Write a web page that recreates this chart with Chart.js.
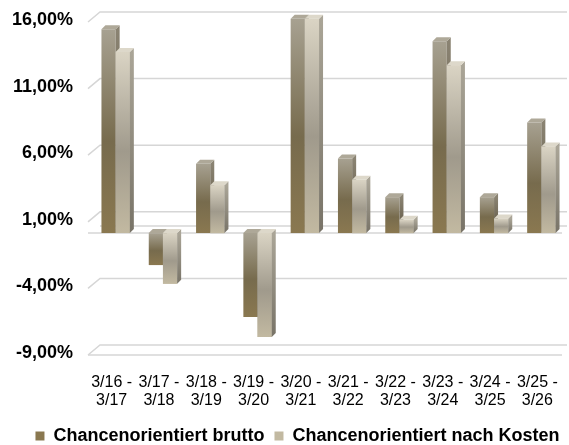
<!DOCTYPE html>
<html lang="de">
<head>
<meta charset="UTF-8">
<title>Chancenorientiert</title>
<script src="https://cdn.jsdelivr.net/npm/chart.js@4.4.1/dist/chart.umd.min.js"></script>
<style>
  html, body { margin: 0; padding: 0; background: #fff; }
</style>
</head>
<body>
<canvas id="chart" width="569" height="445"></canvas>
<script>
const categories = [
  ['3/16 -', '3/17'], ['3/17 -', '3/18'], ['3/18 -', '3/19'], ['3/19 -', '3/20'], ['3/20 -', '3/21'],
  ['3/21 -', '3/22'], ['3/22 -', '3/23'], ['3/23 -', '3/24'], ['3/24 -', '3/25'], ['3/25 -', '3/26']
];
const brutto     = [15.3, -2.4, 5.2, -6.3, 16.1, 5.6, 2.7, 14.4, 2.7, 8.3];
const nachKosten = [13.6, -3.8, 3.6, -7.8, 16.1, 4.0, 1.0, 12.6, 1.1, 6.5];
const seriesNames = ['Chancenorientiert brutto', 'Chancenorientiert nach Kosten'];
const yTicks = [-9, -4, 1, 6, 11, 16];

const FONT = '"Liberation Sans", Arial, sans-serif';
const DEPTH = 4;

// front / side / cap colours for each series
const looks = [
  { stops: ['#a7a191', '#776b4d', '#8a7850'], side: ['#8a8372', '#5c5340'], cap: '#aea898', legend: '#8e8060' },
  { stops: ['#dad4c4', '#a09a8c', '#c2b9a1'], side: ['#aaa597', '#787367'], cap: '#ddd8ca', legend: '#e2dbc8' }
];

function barFill(idx) {
  return (ctx) => {
    const chart = ctx.chart;
    if (ctx.type !== 'data' || !chart.chartArea) return looks[idx].legend;
    const y = chart.scales.y;
    const v = ctx.raw;
    const top = y.getPixelForValue(Math.max(v, 0));
    const bot = y.getPixelForValue(Math.min(v, 0));
    const g = chart.ctx.createLinearGradient(0, top, 0, bot + 0.01);
    const s = looks[idx].stops;
    g.addColorStop(0, s[0]);
    g.addColorStop(0.55, s[1]);
    g.addColorStop(1, s[2]);
    return g;
  };
}

// back wall + side wall grid lines, the zero plane and the floor edge
const wallGrid = {
  id: 'wallGrid',
  beforeDatasetsDraw(chart) {
    const { ctx, chartArea: a, scales: { y } } = chart;
    ctx.save();
    ctx.strokeStyle = '#d6d6d6';
    ctx.lineWidth = 1.5;
    yTicks.forEach(v => {
      const py = y.getPixelForValue(v);
      ctx.beginPath();
      ctx.moveTo(a.left - 4, py + 2);
      ctx.lineTo(a.left + 8, py - 8);
      ctx.lineTo(a.right + 2, py - 8);
      ctx.stroke();
    });
    const z = y.getPixelForValue(0);
    ctx.beginPath();
    ctx.moveTo(a.left + 8, z - 7);
    ctx.lineTo(a.right + 2, z - 7);
    ctx.moveTo(a.left - 4, z);
    ctx.lineTo(a.right - 3, z);
    ctx.moveTo(a.left - 4, a.bottom + 2);
    ctx.lineTo(a.right - 3, a.bottom + 2);
    ctx.stroke();
    ctx.restore();
  }
};

function draw3d(ctx, el, look) {
  const { x, y, base, width } = el.getProps(['x', 'y', 'base', 'width'], true);
  const l = x - width / 2, r = x + width / 2;
  const top = Math.min(y, base), bot = Math.max(y, base);
  const g = ctx.createLinearGradient(0, top, 0, bot);
  g.addColorStop(0, look.side[0]);
  g.addColorStop(1, look.side[1]);
  ctx.fillStyle = g;
  ctx.beginPath();
  ctx.moveTo(r, top);
  ctx.lineTo(r + DEPTH, top - DEPTH);
  ctx.lineTo(r + DEPTH, bot - DEPTH);
  ctx.lineTo(r, bot);
  ctx.closePath();
  ctx.fill();
  ctx.fillStyle = look.cap;
  ctx.beginPath();
  ctx.moveTo(l, top);
  ctx.lineTo(l + DEPTH, top - DEPTH);
  ctx.lineTo(r + DEPTH, top - DEPTH);
  ctx.lineTo(r, top);
  ctx.closePath();
  ctx.fill();
}

const bars3d = {
  id: 'bars3d',
  afterDatasetsDraw(chart) {
    const ctx = chart.ctx;
    const m0 = chart.getDatasetMeta(0), m1 = chart.getDatasetMeta(1);
    ctx.save();
    m0.data.forEach((el, i) => {
      draw3d(ctx, el, looks[0]);
      m1.data[i].draw(ctx);
      draw3d(ctx, m1.data[i], looks[1]);
    });
    ctx.restore();
  }
};

// move the legend down and a bit right, as in the original
const legendShift = {
  id: 'legendShift',
  afterLayout(chart) {
    const lg = chart.legend;
    lg.top += 10; lg.bottom += 10;
    lg.left += 12; lg.right += 12;
  }
};

new Chart(document.getElementById('chart'), {
  type: 'bar',
  data: {
    labels: categories,
    datasets: [
      { label: seriesNames[0], data: brutto, backgroundColor: barFill(0), borderWidth: 0, clip: false },
      { label: seriesNames[1], data: nachKosten, backgroundColor: barFill(1), borderWidth: 0, clip: false }
    ]
  },
  options: {
    responsive: false,
    animation: false,
    layout: { padding: { left: 6, right: 4, top: 20, bottom: 0 } },
    datasets: { bar: { categoryPercentage: 0.6, barPercentage: 1 } },
    plugins: {
      tooltip: { enabled: false },
      legend: {
        position: 'bottom',
        labels: {
          boxWidth: 9, boxHeight: 9, padding: 10, color: '#000',
          font: { family: FONT, size: 18, weight: 'bold' }
        }
      }
    },
    scales: {
      x: {
        grid: { display: false },
        border: { display: false },
        afterFit(s) { s.height = 54; s.paddingLeft = 0; s.paddingRight = 0; },
        ticks: {
          color: '#000', maxRotation: 0, autoSkip: false, padding: 12, labelOffset: -4,
          font: { family: FONT, size: 16, lineHeight: 1.15 }
        }
      },
      y: {
        min: -9, max: 16,
        grid: { display: false, drawTicks: false },
        border: { display: false },
        afterFit(s) { s.width = 86; s.paddingTop = 0; s.paddingBottom = 0; },
        afterBuildTicks(s) { s.ticks = yTicks.map(v => ({ value: v })); },
        ticks: {
          color: '#000', padding: 19,
          font: { family: FONT, size: 18, weight: 'bold' },
          callback: v => v.toFixed(2).replace('.', ',') + '%'
        }
      }
    }
  },
  plugins: [wallGrid, bars3d, legendShift]
});
</script>
</body>
</html>
